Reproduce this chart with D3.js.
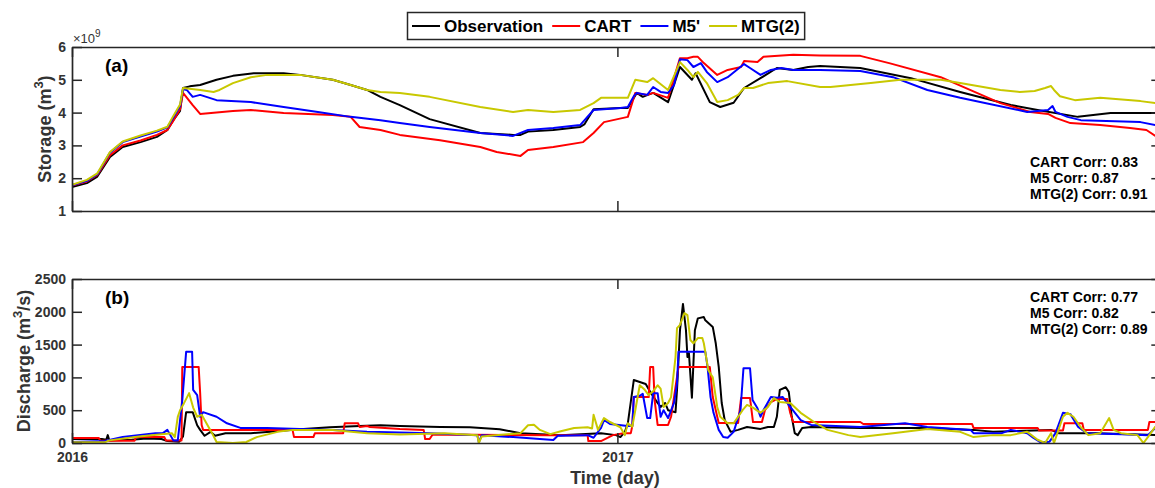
<!DOCTYPE html>
<html>
<head>
<meta charset="utf-8">
<script src="https://cdn.jsdelivr.net/npm/d3@7"></script>
<style>
  html, body { margin: 0; padding: 0; background: #fff; }
  svg { display: block; font-family: "Liberation Sans", Arial, sans-serif; }
</style>
</head>
<body>
<svg id="chart" width="1155" height="488"></svg>
<script>
// ---- Data: [days since 2016-01-01, value] ----
// Reservoir storage, in 10^9 m^3
const storageObs = [[0,1.73],[10,1.85],[17,2.05],[25.5,2.65],[34,2.95],[46,3.1],[57,3.26],[64,3.47],[68,3.77],[72.5,4.05],[74.5,4.75],[79,4.8],[86,4.84],[97,5.0],[108,5.12],[122,5.2],[142,5.2],[153,5.15],[175,5.0],[187,4.84],[198,4.69],[207,4.48],[220,4.23],[240,3.8],[274,3.38],[296,3.32],[301,3.32],[306,3.42],[323,3.47],[341,3.56],[344,3.65],[350,4.1],[368,4.14],[373,4.14],[379,4.6],[383,4.48],[390,4.6],[400,4.32],[408,5.39],[416,5.0],[418.5,5.2],[428,4.32],[435,4.17],[444,4.3],[451,4.75],[462,5.05],[473,5.36],[484,5.3],[494,5.39],[502,5.42],[529,5.36],[563,5.05],[596,4.63],[630,4.23],[648,4.08],[675,3.87],[697,3.99],[731,3.99]];
const storageCart = [[0,1.78],[10,1.9],[17,2.1],[25.5,2.7],[34,3.0],[46,3.15],[57,3.32],[64,3.47],[68,3.75],[72.5,4.1],[74.5,4.6],[81,4.23],[86,3.96],[108,4.05],[120,4.08],[142,3.99],[175,3.93],[187,3.87],[193,3.56],[207,3.47],[220,3.32],[247,3.16],[274,2.95],[285,2.8],[301,2.68],[306,2.86],[323,2.95],[343,3.1],[350,3.38],[357,3.71],[373,3.87],[378,4.6],[386,4.54],[390,4.6],[400,4.45],[408,5.66],[413,5.66],[417,5.7],[420,5.7],[424,5.51],[433,5.15],[440,5.3],[449,5.39],[451,5.57],[460,5.54],[464,5.7],[484,5.76],[502,5.74],[529,5.73],[549,5.5],[583,5.08],[623,4.29],[643,4.02],[655,3.96],[660,3.84],[670,3.68],[690,3.62],[710,3.53],[721,3.47],[727,3.29],[731,3.2]];
const storageM5 = [[0,1.78],[10,1.92],[17,2.12],[25.5,2.78],[34,3.1],[46,3.27],[57,3.42],[64,3.55],[68,3.85],[72.5,4.2],[74.5,4.71],[77,4.69],[81,4.48],[86,4.54],[97,4.38],[120,4.32],[142,4.17],[165,4.02],[187,3.87],[207,3.77],[220,3.68],[240,3.56],[274,3.38],[296,3.29],[306,3.47],[323,3.53],[341,3.62],[350,4.08],[368,4.14],[373,4.17],[377,4.5],[379,4.6],[386,4.54],[390,4.78],[395,4.63],[400,4.6],[404,4.84],[408,5.63],[413,5.6],[417,5.39],[422,5.51],[426,5.24],[433,4.93],[440,5.08],[451,5.48],[455,5.36],[462,5.15],[469,5.3],[476,5.36],[484,5.3],[502,5.3],[529,5.27],[551,5.08],[574,4.69],[596,4.45],[641,4.02],[655,4.08],[658,4.2],[660,4.02],[668,3.87],[677,3.77],[717,3.71],[727,3.62],[731,3.6]];
const storageMtg = [[0,1.8],[10,1.95],[17,2.15],[25.5,2.8],[34,3.12],[46,3.3],[57,3.45],[64,3.57],[68,3.9],[72.5,4.25],[74.5,4.75],[86,4.69],[95,4.63],[99,4.69],[108,4.9],[120,5.08],[131,5.15],[153,5.15],[175,5.0],[187,4.84],[198,4.69],[207,4.63],[220,4.6],[240,4.48],[274,4.17],[296,4.02],[306,4.08],[323,4.02],[341,4.08],[350,4.29],[355,4.45],[373,4.45],[378,5.0],[386,4.93],[390,5.05],[400,4.69],[408,5.54],[413,5.3],[417,5.08],[420,5.24],[426,4.9],[433,4.32],[440,4.38],[447,4.54],[451,4.75],[457,4.75],[467,4.9],[480,4.96],[502,4.78],[509,4.78],[536,4.9],[556,5.0],[583,5.0],[596,4.9],[623,4.69],[636,4.63],[646,4.66],[653,4.75],[657,4.81],[659,4.69],[663,4.5],[673,4.38],[690,4.45],[717,4.35],[727,4.29],[731,4.27]];

// Discharge, in m^3/s
const dischargeObs = [[0,60],[20,60],[23,50],[24,120],[25,40],[40,50],[50,70],[60,60],[64,30],[72,20],[74.5,100],[76.6,470],[81,470],[84,270],[86,200],[89,110],[93,170],[96,110],[103,150],[120,150],[133,170],[153,210],[173,240],[193,260],[207,270],[220,260],[247,245],[267,240],[287,210],[301,150],[328,120],[355,150],[365,120],[368,90],[371,170],[373,300],[377,960],[381,930],[385,900],[388,780],[393,610],[395,550],[398,610],[400,500],[405,470],[406,810],[408,1720],[410,2120],[412,1720],[413,1310],[414,1370],[416,690],[418,1720],[420,1900],[424,1920],[425,1870],[430,1770],[432,1520],[434,1160],[436,610],[438,350],[442,170],[447,200],[453,245],[462,215],[467,245],[471,245],[473,400],[475,810],[479,850],[481,780],[483,400],[485,150],[487,120],[490,230],[496,245],[529,230],[574,230],[605,200],[618,170],[657,200],[662,150],[688,150],[727,120],[731,120]];
const dischargeCart = [[0,75],[18,75],[19,35],[42,35],[43,90],[62,90],[63,40],[73.5,40],[74,1160],[85,1160],[86,760],[87,275],[88,200],[148,200],[149,90],[162,90],[163,150],[182,150],[183,300],[192,300],[193,245],[198,260],[200,245],[220,215],[236,200],[237,60],[240,60],[242,130],[319,120],[346,120],[346.5,30],[355,30],[359,75],[363,120],[370,150],[375,150],[376,260],[377,700],[387,700],[388,1160],[390,1160],[391,650],[393,275],[400,275],[402,400],[404,700],[407,1160],[428,1160],[430,700],[433,400],[434,305],[447,305],[449,685],[455,685],[457,320],[463,320],[465,500],[469,625],[473,670],[480,670],[482,457],[484,320],[529,320],[531,290],[604,290],[605,230],[648,230],[649,190],[665,190],[666,300],[678,300],[679,200],[722,200],[723,320],[731,320]];
const dischargeM5 = [[0,15],[22,30],[34,90],[56,150],[61,150],[64,200],[68,40],[71,40],[74,650],[76.6,1390],[80.6,1390],[81.3,810],[84,730],[86,400],[88,470],[97,400],[104,300],[113,230],[131,230],[175,200],[198,170],[220,160],[240,150],[272,120],[273,10],[275,120],[296,90],[323,45],[326,110],[346,120],[350,80],[355,230],[357,350],[361,290],[373,260],[376,260],[377,700],[381,720],[383,750],[386,380],[388,380],[390,760],[393,760],[395,400],[397,500],[400,380],[404,610],[406,910],[407,1390],[425,1390],[426.5,1160],[428.5,700],[430.5,460],[434,200],[437,90],[440,80],[444,170],[448.6,500],[450.6,1140],[455,1140],[456.7,655],[460,530],[462,400],[464,500],[469,700],[473,690],[477,700],[482,550],[489,350],[496,275],[529,245],[559,300],[574,245],[603,200],[605,150],[624,150],[630,200],[641,150],[645,80],[650,10],[656,20],[660,150],[665,460],[670,440],[675,250],[681,150],[710,130],[722,120],[727,230],[731,250]];
const dischargeMtg = [[0,10],[22,10],[25,40],[45,100],[67,150],[69,90],[71,400],[72.5,500],[75,600],[78.6,760],[81.3,540],[84,400],[87,430],[89,350],[94,150],[97,15],[108,0],[117,15],[124,90],[138,170],[148,200],[175,200],[198,150],[220,130],[250,150],[272,120],[273,0],[275,100],[301,150],[306,270],[310,280],[314,200],[321,135],[328,180],[337,230],[346,240],[349,220],[350,430],[353,200],[357,380],[361,320],[368,240],[371,120],[373,300],[376,250],[378,500],[381,880],[384,820],[387,730],[390,790],[393,880],[395,830],[397,550],[400,610],[402,700],[405,1310],[406,1750],[408,1800],[411,1980],[413,1950],[415,1570],[417,1520],[420,1600],[423,1600],[424,1520],[427,1110],[430,1000],[433,550],[435,400],[440,300],[444,300],[450,500],[453,580],[457,540],[462,460],[467,550],[471,685],[475,625],[482,610],[489,460],[498,320],[507,200],[521,120],[529,90],[551,150],[574,215],[596,170],[605,90],[618,120],[630,120],[641,170],[648,50],[653,0],[657,150],[659,0],[665,400],[668,460],[672,400],[677,240],[682,120],[690,150],[696,380],[699,200],[704,150],[715,120],[719,0],[722,90],[727,250],[731,270]];

// Series names, colours and tick values
const seriesNames = ["Observation", "CART", "M5'", "MTG(2)"];
const seriesColors = ["#000000", "#ff0000", "#0000ff", "#c8c800"];
const yearTicks = [2016, 2017];
const storageTicks = [1, 2, 3, 4, 5, 6];
const dischargeTicks = [0, 500, 1000, 1500, 2000, 2500];
const storageCorr = ["CART Corr: 0.83", "M5 Corr: 0.87", "MTG(2) Corr: 0.91"];
const dischargeCorr = ["CART Corr: 0.77", "M5 Corr: 0.82", "MTG(2) Corr: 0.89"];

// ---- Layout ----
const svg = d3.select("#chart");
svg.append("rect").attr("width", 1155).attr("height", 488).attr("fill", "#fff");

const axisColor = "#262626";
const labelColor = "#333";
const t0 = Date.UTC(2016, 0, 1);
const dayToDate = d => new Date(t0 + d * 864e5);

const left = 72;
const pxPerDay = 545.4 / 366;
const x = d3.scaleUtc()
  .domain([new Date(Date.UTC(2016, 0, 1)), new Date(Date.UTC(2018, 0, 1))])
  .range([left, left + 731 * pxPerDay]);
const right = x.range()[1];

const panels = [
  { id: "a", top: 47, bottom: 211, domain: [1, 6], ticks: storageTicks,
    series: [storageObs, storageCart, storageM5, storageMtg], corr: storageCorr, corrY: 167,
    ylabel: ["Storage (m", "3", ")"], ylabelX: 51, showX: false },
  { id: "b", top: 279, bottom: 443, domain: [0, 2500], ticks: dischargeTicks,
    series: [dischargeObs, dischargeCart, dischargeM5, dischargeMtg], corr: dischargeCorr, corrY: 302,
    ylabel: ["Discharge (m", "3", "/s)"], ylabelX: 30, showX: true }
];

panels.forEach(p => {
  const y = d3.scaleLinear().domain(p.domain).range([p.bottom, p.top]);
  const g = svg.append("g");

  const clipId = "clip-" + p.id;
  svg.append("clipPath").attr("id", clipId)
    .append("rect").attr("x", left).attr("y", p.top)
    .attr("width", right - left).attr("height", p.bottom - p.top);

  // series lines
  const line = d3.line().x(d => x(dayToDate(d[0]))).y(d => y(d[1]));
  const lines = g.append("g").attr("clip-path", `url(#${clipId})`);
  p.series.forEach((s, i) => {
    lines.append("path").datum(s)
      .attr("d", line)
      .attr("fill", "none")
      .attr("stroke", seriesColors[i])
      .attr("stroke-width", 2)
      .attr("stroke-linejoin", "round");
  });

  const yearDates = yearTicks.map(yr => new Date(Date.UTC(yr, 0, 1)));

  // axes with inward ticks
  const axL = g.append("g").attr("transform", `translate(${left},0)`)
    .call(d3.axisLeft(y).tickValues(p.ticks).tickSizeInner(-10).tickSizeOuter(0).tickPadding(6)
      .tickFormat(d3.format("d")));
  const axR = g.append("g").attr("transform", `translate(${right},0)`)
    .call(d3.axisRight(y).tickValues(p.ticks).tickSizeInner(-10).tickSizeOuter(0).tickFormat(""));
  const axB = g.append("g").attr("transform", `translate(0,${p.bottom})`)
    .call(d3.axisBottom(x).tickValues(yearDates).tickSizeInner(-10).tickSizeOuter(0).tickPadding(9)
      .tickFormat(p.showX ? d3.utcFormat("%Y") : ""));
  const axT = g.append("g").attr("transform", `translate(0,${p.top})`)
    .call(d3.axisTop(x).tickValues(yearDates).tickSizeInner(-10).tickSizeOuter(0).tickFormat(""));

  [axL, axR, axB, axT].forEach(ax => {
    ax.selectAll("path.domain").attr("stroke", axisColor).attr("stroke-width", 1.7);
    ax.selectAll(".tick line").attr("stroke", axisColor).attr("stroke-width", 1.5);
    ax.selectAll(".tick text")
      .attr("fill", labelColor)
      .style("font-size", "14px")
      .style("font-weight", "bold")
      .style("font-family", '"Liberation Sans", Arial, sans-serif');
  });

  // panel tag
  g.append("text").attr("x", 105).attr("y", p.top + 25)
    .attr("font-size", 19).attr("font-weight", "bold").attr("fill", "#000")
    .text(`(${p.id})`);

  // correlation notes
  p.corr.forEach((c, i) => {
    g.append("text").attr("x", 1030).attr("y", p.corrY + i * 16)
      .attr("font-size", 14).attr("font-weight", "bold").attr("fill", "#000")
      .text(c);
  });

  // y-axis title
  const yl = g.append("text")
    .attr("transform", `translate(${p.ylabelX},${(p.top + p.bottom) / 2}) rotate(-90)`)
    .attr("text-anchor", "middle")
    .attr("font-size", 18).attr("font-weight", "bold").attr("fill", labelColor);
  yl.append("tspan").text(p.ylabel[0]);
  yl.append("tspan").attr("dy", -8).attr("font-size", 13).text(p.ylabel[1]);
  yl.append("tspan").attr("dy", 8).text(p.ylabel[2]);
});

// exponent above storage axis
const expo = svg.append("text").attr("x", 73).attr("y", 43)
  .attr("font-size", 13).attr("fill", labelColor);
expo.append("tspan").text("\u00d710");
expo.append("tspan").attr("dy", -6).attr("font-size", 10).text("9");

// x-axis title
svg.append("text").attr("x", 615).attr("y", 484)
  .attr("text-anchor", "middle")
  .attr("font-size", 18).attr("font-weight", "bold").attr("fill", labelColor)
  .text("Time (day)");

// legend
const legend = svg.append("g");
const legY = 26;
let cx = 412;
seriesNames.forEach((name, i) => {
  legend.append("line")
    .attr("x1", cx).attr("x2", cx + 28).attr("y1", legY).attr("y2", legY)
    .attr("stroke", seriesColors[i]).attr("stroke-width", 2);
  const t = legend.append("text")
    .attr("x", cx + 32).attr("y", legY + 6)
    .attr("font-size", 17).attr("font-weight", "bold").attr("fill", "#000")
    .text(name);
  cx += 32 + t.node().getComputedTextLength() + 9;
});
legend.insert("rect", ":first-child")
  .attr("x", 407.5).attr("y", 12.5)
  .attr("width", cx - 9 + 5 - 407.5).attr("height", 27)
  .attr("fill", "#fff").attr("stroke", axisColor).attr("stroke-width", 1.5);
</script>
</body>
</html>
